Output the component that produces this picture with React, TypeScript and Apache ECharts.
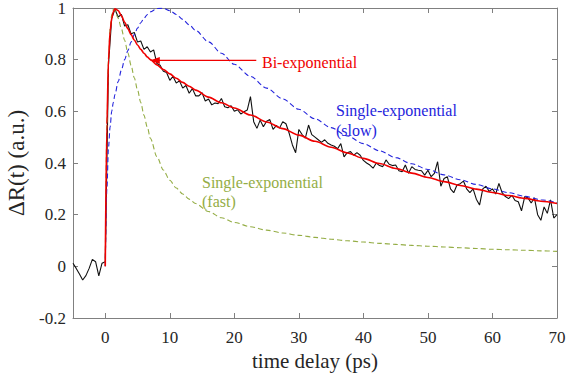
import React, { useEffect, useRef } from 'react';
import * as echarts from 'echarts';

const xTicks = [0, 10, 20, 30, 40, 50, 60, 70];

// measured trace, sampled every 0.5 ps from -5 ps
const measuredStart = -5;
const measuredStep = 0.5;
const measured = [
  0.012, -0.008, -0.03, -0.053, -0.036, -0.008, 0.027, 0.018, -0.037, 0.012,
  0.018, 0.78, 0.96, 0.995, 0.965, 0.975, 0.93, 0.935, 0.9, 0.905,
  0.868, 0.872, 0.84, 0.85, 0.83, 0.838, 0.785, 0.778, 0.755, 0.75,
  0.72, 0.735, 0.71, 0.718, 0.69, 0.7, 0.67, 0.688, 0.66, 0.66,
  0.672, 0.64, 0.648, 0.625, 0.632, 0.63, 0.65, 0.618, 0.614, 0.622,
  0.6, 0.606, 0.59, 0.598, 0.605, 0.657, 0.56, 0.534, 0.566, 0.54,
  0.562, 0.568, 0.53, 0.545, 0.535, 0.56, 0.552, 0.515, 0.47, 0.44,
  0.53, 0.51, 0.496, 0.547, 0.51, 0.5, 0.49, 0.48, 0.49, 0.476,
  0.47, 0.465, 0.455, 0.475, 0.424, 0.44, 0.444, 0.43, 0.44, 0.43,
  0.41, 0.4, 0.392, 0.38, 0.4, 0.39, 0.386, 0.412, 0.395, 0.39,
  0.392, 0.37, 0.366, 0.392, 0.36, 0.386, 0.375, 0.372, 0.37, 0.353,
  0.372, 0.347, 0.36, 0.405, 0.31, 0.34, 0.347, 0.3, 0.285, 0.315,
  0.32, 0.33, 0.3, 0.285, 0.3, 0.26, 0.237, 0.3, 0.31, 0.29,
  0.3, 0.28, 0.321, 0.285, 0.27, 0.262, 0.275, 0.255, 0.25, 0.215,
  0.27, 0.265, 0.245, 0.265, 0.2, 0.178, 0.23, 0.205, 0.257, 0.187,
  0.2,
];

const fitTime = [
  0, 0.25, 0.5, 0.75, 1, 1.25, 1.5, 2, 2.5, 3, 3.5, 4, 4.5, 5, 5.5, 6, 6.5, 7,
  8, 9, 10, 11, 12, 13, 14, 16, 18, 20, 22.5, 25, 27.5, 30, 32.5, 35, 37.5, 40,
  42.5, 45, 47.5, 50, 52.5, 55, 57.5, 60, 62.5, 65, 67.5, 70,
];
const biExp = [
  0, 0.55, 0.8, 0.91, 0.96, 0.985, 0.997, 0.99, 0.97, 0.945, 0.92, 0.897, 0.876, 0.857, 0.84, 0.825, 0.811, 0.8,
  0.78, 0.762, 0.745, 0.728, 0.712, 0.697, 0.682, 0.655, 0.633, 0.613, 0.586, 0.559, 0.533, 0.508, 0.484, 0.461, 0.439, 0.418,
  0.398, 0.379, 0.361, 0.344, 0.328, 0.313, 0.299, 0.286, 0.274, 0.263, 0.252, 0.243,
];
const slowExp = [
  0, 0.3, 0.46, 0.54, 0.6, 0.635, 0.665, 0.715, 0.76, 0.8, 0.835, 0.868, 0.897, 0.922, 0.943, 0.96, 0.974, 0.985,
  0.998, 0.999, 0.99, 0.975, 0.956, 0.935, 0.913, 0.869, 0.825, 0.782, 0.735, 0.69, 0.648, 0.608, 0.571, 0.537, 0.505, 0.475,
  0.447, 0.421, 0.397, 0.375, 0.354, 0.335, 0.317, 0.3, 0.285, 0.271, 0.258, 0.246,
];
const fastExp = [
  0, 0.55, 0.8, 0.92, 0.975, 0.995, 0.99, 0.96, 0.92, 0.875, 0.827, 0.778, 0.73, 0.683, 0.634, 0.585, 0.54, 0.495,
  0.425, 0.373, 0.333, 0.303, 0.28, 0.26, 0.243, 0.212, 0.188, 0.17, 0.153, 0.14, 0.129, 0.12, 0.112, 0.105, 0.099, 0.094,
  0.089, 0.085, 0.081, 0.078, 0.075, 0.072, 0.069, 0.066, 0.064, 0.062, 0.06, 0.058,
];

const arrowFrom = [23.4, 0.797];
const arrowTo = [6.9, 0.797];

export default function App() {
  const ref = useRef<HTMLDivElement>(null);
  useEffect(() => {
    document.body.style.margin = '0';
    const chart = echarts.init(ref.current!, null, { renderer: 'svg' });
    const font = 'Liberation Serif';
    const boxColor = '#808080';
    const labelColor = '#262626';
    const red = '#f00000';
    const blue = '#2424dc';
    const green = '#94ad45';
    const measuredPts = measured.map((v, i) => [measuredStart + i * measuredStep, v]);
    const pts = (vals: number[]) => fitTime.map((t, i) => [t, vals[i]]);
    const axisLine = { show: true, onZero: false, lineStyle: { color: boxColor, width: 1 } };
    const tick = { show: true, inside: true, length: 5, lineStyle: { color: boxColor, width: 1 } };
    const yFmt = (v: number) => String(Math.round(v * 10) / 10);
    const labelStyle = { color: labelColor, fontSize: 17, fontFamily: font };

    chart.setOption({
      animation: false,
      textStyle: { fontFamily: font },
      grid: { left: 73, right: 23, top: 8, bottom: 60, outerBoundsMode: 'none', containLabel: false },
      xAxis: [
        {
          type: 'value', min: -5, max: 70, position: 'bottom',
          axisLine, axisTick: { ...tick, customValues: xTicks }, splitLine: { show: false },
          axisLabel: { ...labelStyle, customValues: xTicks, margin: 11 },
          name: 'time delay (ps)', nameLocation: 'middle', nameGap: 27,
          nameTextStyle: { color: labelColor, fontSize: 21, fontFamily: font },
        },
        {
          type: 'value', min: -5, max: 70, position: 'top',
          axisLine, axisTick: { ...tick, customValues: xTicks }, splitLine: { show: false }, axisLabel: { show: false },
        },
      ],
      yAxis: [
        {
          type: 'value', min: -0.2, max: 1, interval: 0.2, position: 'left',
          axisLine, axisTick: tick, splitLine: { show: false },
          axisLabel: { ...labelStyle, margin: 7, formatter: yFmt },
          name: 'ΔR(t) (a.u.)', nameLocation: 'middle', nameGap: 24,
          nameTextStyle: { color: labelColor, fontSize: 23, fontFamily: font },
        },
        {
          type: 'value', min: -0.2, max: 1, interval: 0.2, position: 'right',
          axisLine, axisTick: tick, splitLine: { show: false }, axisLabel: { show: false },
        },
      ],
      series: [
        {
          type: 'line', name: 'measured', data: measuredPts, showSymbol: false, symbol: 'none',
          lineStyle: { color: '#111111', width: 1.1 }, z: 2,
        },
        {
          type: 'line', name: 'fast', data: pts(fastExp), showSymbol: false, symbol: 'none',
          smooth: 0.3, smoothMonotone: 'x',
          lineStyle: { color: green, width: 1.1, type: [5, 3] }, z: 3,
        },
        {
          type: 'line', name: 'slow', data: pts(slowExp), showSymbol: false, symbol: 'none',
          smooth: 0.3, smoothMonotone: 'x',
          lineStyle: { color: blue, width: 1.1, type: [5, 3] }, z: 3,
        },
        {
          type: 'line', name: 'bi', data: pts(biExp), showSymbol: false, symbol: 'none',
          smooth: 0.3, smoothMonotone: 'x',
          lineStyle: { color: red, width: 1.6 }, z: 4,
        },
      ],
    });

    const p0 = chart.convertToPixel({ xAxisIndex: 0, yAxisIndex: 0 }, arrowFrom) as number[];
    const p1 = chart.convertToPixel({ xAxisIndex: 0, yAxisIndex: 0 }, arrowTo) as number[];
    const headLen = 10;
    const headHalf = 3.5;
    const txt = (text: string, x: number, y: number, fill: string) => ({
      type: 'text', x, y, z: 10,
      style: { text, fill, fontSize: 16, fontFamily: font, verticalAlign: 'middle' },
    });
    chart.setOption({
      graphic: [
        {
          type: 'line', z: 10,
          shape: { x1: p0[0], y1: p0[1], x2: p1[0] + headLen - 1, y2: p1[1] },
          style: { stroke: red, lineWidth: 1.2 },
        },
        {
          type: 'polygon', z: 10,
          shape: { points: [[p1[0], p1[1]], [p1[0] + headLen, p1[1] - headHalf], [p1[0] + headLen, p1[1] + headHalf]] },
          style: { fill: red },
        },
        txt('Bi-exponential', 262, 62, red),
        txt('Single-exponential', 336, 110, blue),
        txt('(slow)', 336, 130, blue),
        txt('Single-exponential', 202, 182, green),
        txt('(fast)', 202, 201, green),
      ],
    });
    return () => chart.dispose();
  }, []);
  return <div ref={ref} style={{ width: 580, height: 378 }} />;
}
